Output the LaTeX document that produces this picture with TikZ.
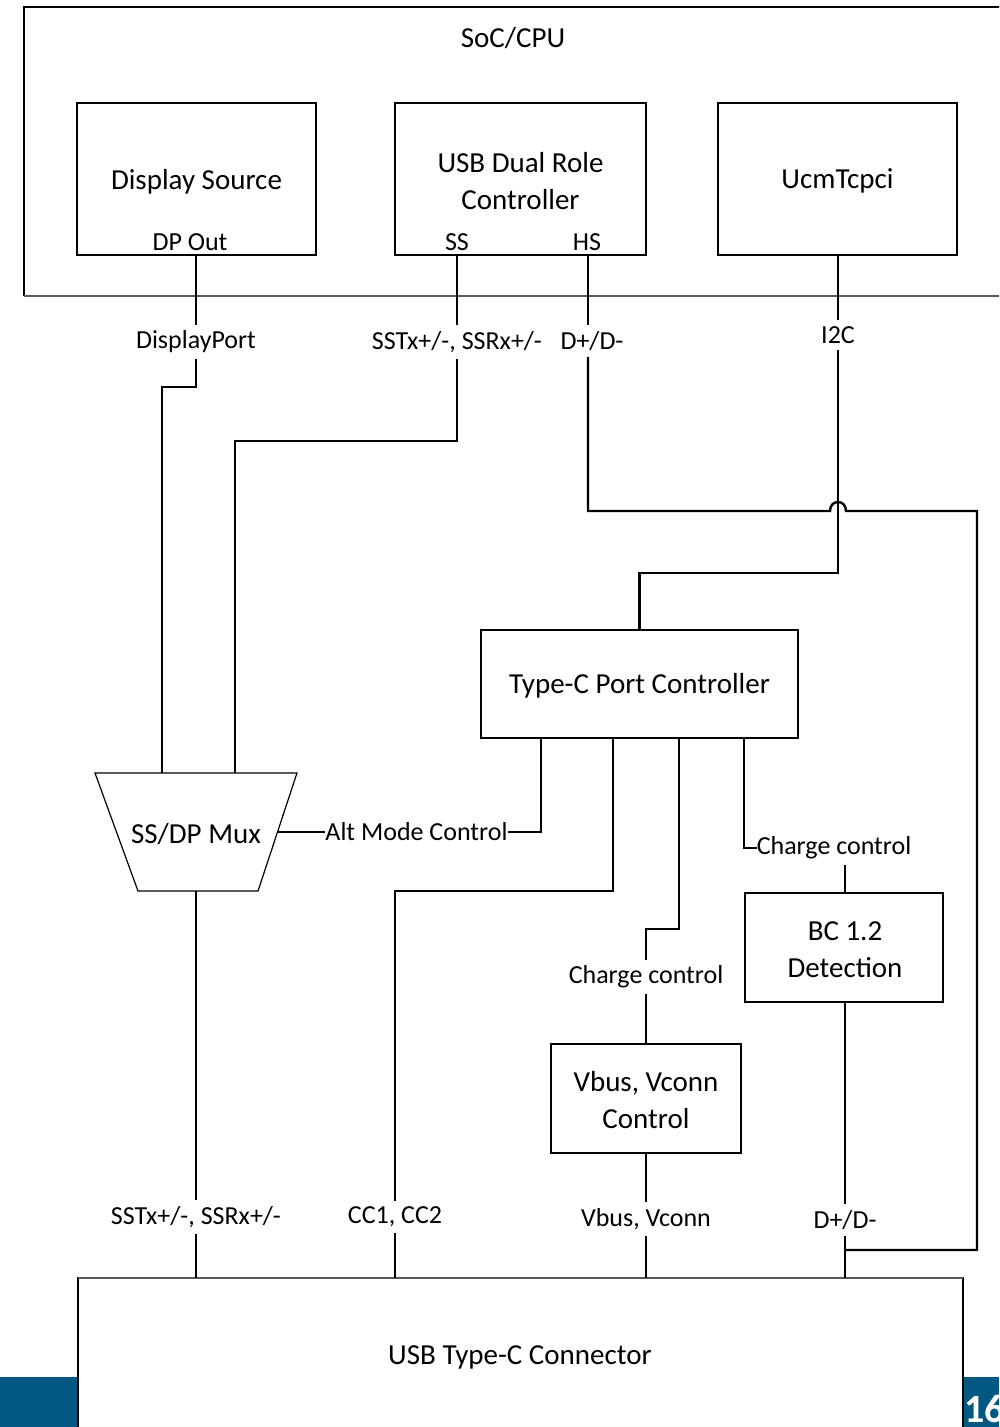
\documentclass[tikz,border=0pt]{standalone}
\usepackage{fontspec}
\setmainfont{Carlito}
\newcommand\bigtxt{\fontsize{29}{36}\selectfont}
\newcommand\labtxt{\fontsize{26}{31}\selectfont}
\definecolor{slideblue}{RGB}{0,88,131}
\begin{document}
\begin{tikzpicture}[x=1pt,y=-1pt,
  blk/.style={draw, line width=1.2pt, fill=white, align=center, font=\bigtxt, inner sep=0pt},
  btxt/.style={font=\bigtxt, align=center, yshift=-2pt},
  wire/.style={line width=2.4pt, line join=miter},
  lab/.style={fill=white, inner xsep=1pt, inner ysep=6pt, font=\labtxt},
  port/.style={font=\labtxt, inner sep=0pt}]
\useasboundingbox (0,0) rectangle (999,1427);
\clip (0,0) rectangle (999,1427);
% footer bar
\fill[slideblue] (0,1377) rectangle (999,1427);
% SoC container
\draw[line width=1.2pt] (1005,7) -- (24,7) -- (24,296);
\draw[line width=2pt, gray!70!black] (24,296) -- (1005,296);
\node[btxt] (soc) at (513,36) {SoC/CPU};
% blocks
\node[blk, minimum width=239pt, minimum height=152pt] (ds) at (196.5,179) {};
\node[btxt] (dst) at (196.5,180) {Display Source};
\node[port] (dpo) at (190,242) {DP Out};
\node[blk, minimum width=251pt, minimum height=152pt] (usb) at (520.5,179) {};
\node[btxt] (usbt) at (520.5,179) {USB Dual Role\\[1pt]Controller};
\node[port] (ssp) at (457,242) {SS};
\node[port] (hsp) at (587,242) {HS};
\node[blk, minimum width=239pt, minimum height=152pt] (ucm) at (837.5,179) {};
\node[btxt] (ucmt) at (837.5,179) {UcmTcpci};
\node[blk, minimum width=317pt, minimum height=108pt] (tcpc) at (639.5,684) {};
\node[btxt] (tcpct) at (639.5,684) {Type-C Port Controller};
\node[blk, minimum width=190pt, minimum height=109pt] (vbus) at (646,1098.5) {};
\node[btxt] (vbust) at (646,1098.5) {Vbus, Vconn\\[1pt]Control};
\node[blk, minimum width=198pt, minimum height=109pt] (bc) at (844,947.5) {};
\node[btxt] (bct) at (845,947.5) {BC 1.2\\[1pt]Detection};
% mux
\coordinate (mtl) at (95,773);
\coordinate (mtr) at (297,773);
\coordinate (mbr) at (258,891);
\coordinate (mbl) at (138,891);
\draw[line width=1.2pt] (mtl) -- (mtr) -- (mbr) -- (mbl) -- cycle;
\node[btxt] (mux) at (196,832) {SS/DP Mux};
\coordinate (muxr) at (277.5,832);
% connector box
\draw[line width=1.2pt, fill=white] (78,1440) -- (78,1278) -- (963,1278) -- (963,1440);
\draw[line width=2pt, gray!70!black] (78,1278) -- (963,1278);
\node[btxt] (conn) at (520,1355) {USB Type-C Connector};
\node[font=\fontsize{40}{44}\selectfont\bfseries, text=white, anchor=base west, inner sep=0pt] (pg) at (964,1422) {16};
% anchor points
\coordinate (dsout) at (196,255);
\coordinate (ssout) at (457,255);
\coordinate (hsout) at (588,255);
\coordinate (i2cout) at (838,255);
\coordinate (tAlt) at (541,738);
\coordinate (tCC) at (613,738);
\coordinate (tCh1) at (679,738);
\coordinate (tCh2) at (744,738);
\coordinate (cSS) at (196,1278);
\coordinate (cCC) at (395,1278);
\coordinate (cVb) at (646,1278);
\coordinate (cDD) at (845,1278);
\coordinate (bcx) at (845,1002);
% labels
\node[lab] (lDP) at (196,342) {DisplayPort};
\node[lab] (lSS) at (457,342) {SSTx+/-, SSRx+/-};
\node[lab] (lHS) at (592,341) {D+/D-};
\node[lab] (lI2C) at (838,335) {I2C};
\node[lab, inner xsep=0pt] (lAlt) at (416.5,832) {Alt Mode Control};
\node[lab] (lCC) at (395,1217) {CC1, CC2};
\node[lab] (lCh1) at (646,977) {Charge control};
\node[lab, inner xsep=0pt] (lCh2) at (834,848) {Charge control};
\node[lab] (lSS2) at (196,1217) {SSTx+/-, SSRx+/-};
\node[lab] (lVb) at (646,1219) {Vbus, Vconn};
\node[lab] (lDD) at (845,1220) {D+/D-};
% connectors
\draw[wire] (dsout) -- (lDP.north);
\draw[wire] (lDP.south) |- (162,387) -- (162,773);
\draw[wire] (ssout) -- (lSS.north);
\draw[wire] (lSS.south) |- (235,441) -- (235,773);
\draw[wire] (hsout) -- (hsout |- lHS.north);
\draw[wire] (hsout |- lHS.south) -- (588,511) -- (830,511)
  .. controls (830,499) and (846,499) .. (846,511) -- (977,511) -- (977,1250) -- (845,1250);
\draw[wire] (i2cout) -- (lI2C.north);
\draw[wire] (lI2C.south) -- (838,573) -| (tcpc.north);
\draw[wire] (muxr) -- (lAlt.west);
\draw[wire] (lAlt.east) -| (tAlt);
\draw[wire] (tCC) |- (395,891) -- (lCC.north);
\draw[wire] (lCC.south) -- (cCC);
\draw[wire] (tCh1) |- (646,929) -- (lCh1.north);
\draw[wire] (lCh1.south) -- (vbus.north);
\draw[wire] (tCh2) |- (lCh2.west);
\draw[wire] (bcx |- lCh2.south) -- (bc.north -| bcx);
\draw[wire] (196,891) -- (lSS2.north);
\draw[wire] (lSS2.south) -- (cSS);
\draw[wire] (vbus.south) -- (lVb.north);
\draw[wire] (lVb.south) -- (cVb);
\draw[wire] (bcx) -- (lDD.north);
\draw[wire] (lDD.south) -- (cDD);
\end{tikzpicture}
\end{document}
